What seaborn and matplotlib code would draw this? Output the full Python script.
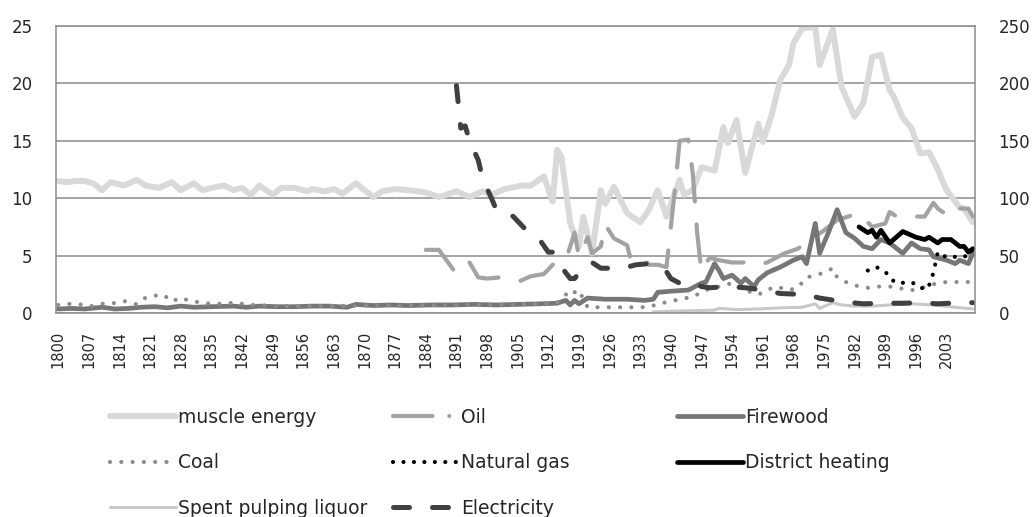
import matplotlib
matplotlib.use("Agg")
import matplotlib.pyplot as plt
from matplotlib.lines import Line2D
import seaborn as sns

sns.set_style("white")
plt.rcParams["font.family"] = ["DejaVu Sans"]

# ---------------------------------------------------------------------------
# Data (left-axis units)

muscle_years = [1800, 1802, 1804, 1806, 1808, 1810, 1812, 1815, 1818, 1820, 1823, 1826, 1828, 1831,
                1833, 1835, 1838, 1840, 1842, 1844, 1846, 1849, 1851, 1854, 1857, 1858, 1861, 1863,
                1865, 1868, 1870, 1872, 1874, 1877, 1880, 1884, 1887, 1891, 1894, 1897, 1899, 1902,
                1906, 1908, 1911, 1913, 1914, 1915, 1917, 1919, 1920, 1922, 1924, 1925, 1927, 1930,
                1933, 1935, 1937, 1939, 1942, 1943, 1945, 1947, 1950, 1952, 1953, 1955, 1957, 1960,
                1961, 1963, 1965, 1967, 1968, 1970, 1973, 1974, 1977, 1979, 1982, 1984, 1986, 1988,
                1990, 1991, 1993, 1995, 1997, 1999, 2001, 2003, 2006, 2007, 2009]
muscle_vals = [11.5, 11.4, 11.5, 11.5, 11.3, 10.7, 11.4, 11.1, 11.6, 11.1, 10.9, 11.4, 10.7, 11.3,
               10.7, 10.9, 11.1, 10.7, 10.9, 10.3, 11.1, 10.3, 10.9, 10.9, 10.6, 10.8, 10.6, 10.8,
               10.4, 11.3, 10.7, 10.1, 10.6, 10.8, 10.7, 10.5, 10.1, 10.6, 10.1, 10.6, 10.3, 10.8,
               11.1, 11.1, 11.9, 9.7, 14.2, 13.6, 7.8, 5.8, 8.4, 5.2, 10.7, 9.5, 11.0, 8.7,
               7.9, 9.0, 10.7, 8.4, 11.6, 10.3, 10.7, 12.7, 12.4, 16.2, 14.8, 16.8, 12.2, 16.5,
               14.9, 17.2, 20.3, 21.6, 23.5, 24.8, 24.9, 21.6, 24.7, 19.7, 17.1, 18.3, 22.3, 22.5,
               19.4, 18.8, 17.0, 16.1, 13.9, 14.0, 12.5, 10.7, 9.2, 9.1, 7.9]

oil_years = [1884, 1887, 1891, 1894, 1896, 1898, 1901, 1905, 1908, 1911, 1913, 1916, 1918, 1919,
             1921, 1922, 1924, 1925, 1927, 1930, 1931, 1934, 1935, 1937, 1939, 1940, 1941, 1942,
             1944, 1945, 1946, 1947, 1948, 1949, 1951, 1954, 1957, 1959, 1962, 1964, 1966, 1969,
             1972, 1975, 1978, 1983, 1986, 1989, 1990, 1992, 1996, 1998, 2000, 2001, 2004, 2006,
             2008, 2009]
oil_vals = [5.5, 5.5, 3.4, 4.4, 3.1, 3.0, 3.1, 2.7, 3.2, 3.4, 4.2, 4.6, 7.0, 4.9,
            6.6, 5.2, 5.8, 7.7, 6.5, 5.9, 4.4, 4.6, 4.2, 4.2, 4.0, 7.5, 11.0, 15.0,
            15.1, 12.2, 7.0, 3.6, 4.4, 4.8, 4.6, 4.4, 4.4, 4.1, 4.4, 4.8, 5.2, 5.6,
            6.4, 7.2, 8.1, 8.7, 7.5, 7.8, 8.8, 8.3, 8.4, 8.4, 9.6, 9.1, 8.3, 9.1,
            9.1, 8.4]

firewood_years = [1800, 1803, 1806, 1810, 1813, 1816, 1819, 1822, 1825, 1828, 1831, 1835, 1840, 1843,
                  1846, 1850, 1854, 1858, 1862, 1866, 1868, 1872, 1876, 1880, 1885, 1890, 1895, 1900,
                  1905, 1910, 1914, 1916, 1917, 1918, 1919, 1921, 1925, 1930, 1934, 1936, 1937, 1940,
                  1944, 1947, 1948, 1950, 1951, 1952, 1954, 1956, 1957, 1959, 1960, 1962, 1965, 1968,
                  1970, 1971, 1973, 1974, 1976, 1978, 1980, 1982, 1984, 1986, 1988, 1990, 1993, 1995,
                  1997, 1999, 2000, 2003, 2005, 2006, 2008, 2009]
firewood_vals = [0.35, 0.4, 0.35, 0.5, 0.35, 0.4, 0.5, 0.55, 0.45, 0.6, 0.5, 0.55, 0.6, 0.5,
                 0.6, 0.55, 0.55, 0.6, 0.6, 0.5, 0.75, 0.65, 0.7, 0.65, 0.7, 0.7, 0.75, 0.7,
                 0.75, 0.8, 0.85, 1.1, 0.7, 1.1, 0.8, 1.3, 1.2, 1.2, 1.1, 1.2, 1.8, 1.9,
                 2.0, 2.6, 2.7, 4.3, 3.7, 3.0, 3.3, 2.6, 3.0, 2.3, 2.9, 3.5, 4.0, 4.6,
                 4.9, 4.3, 7.8, 5.2, 7.0, 9.0, 7.0, 6.5, 5.8, 5.6, 6.4, 6.1, 5.2, 6.1,
                 5.6, 5.5, 4.9, 4.6, 4.3, 4.6, 4.3, 5.2]

coal_years = [1800, 1802, 1805, 1807, 1810, 1812, 1815, 1818, 1820, 1822, 1824, 1826, 1828, 1830,
              1833, 1835, 1838, 1840, 1843, 1845, 1850, 1860, 1870, 1880, 1890, 1900, 1910, 1914,
              1916, 1917, 1918, 1919, 1920, 1921, 1925, 1930, 1935, 1937, 1940, 1942, 1945, 1948,
              1951, 1954, 1957, 1960, 1962, 1964, 1967, 1969, 1971, 1973, 1975, 1977, 1978, 1980,
              1983, 1985, 1987, 1989, 1991, 1994, 1996, 1999, 2001, 2003, 2006, 2008]
coal_vals = [0.7, 0.8, 0.75, 0.55, 0.8, 0.8, 1.05, 0.75, 1.35, 1.5, 1.6, 1.0, 1.35, 1.05,
             0.9, 0.8, 0.8, 0.9, 0.75, 0.7, 0.6, 0.6, 0.65, 0.65, 0.7, 0.7, 0.8, 0.9,
             1.6, 2.0, 1.8, 2.0, 1.2, 0.5, 0.5, 0.5, 0.5, 0.8, 1.0, 1.2, 1.4, 2.0,
             2.3, 2.6, 2.0, 1.6, 2.0, 2.3, 2.0, 2.2, 3.1, 3.3, 3.5, 3.9, 3.1, 2.7,
             2.3, 2.2, 2.3, 2.3, 2.3, 2.0, 2.0, 2.4, 2.6, 2.7, 2.7, 2.7]

gas_years = [1985, 1987, 1990, 1991, 1994, 1996, 1998, 1999, 2000, 2001, 2002, 2004, 2006, 2008, 2009]
gas_vals = [3.7, 4.0, 3.3, 2.7, 2.6, 2.6, 2.0, 2.4, 3.5, 5.3, 5.0, 4.8, 5.0, 4.9, 5.6]

district_years = [1983, 1985, 1986, 1987, 1988, 1990, 1993, 1996, 1998, 1999, 2001, 2002, 2004,
                  2006, 2007, 2008, 2009]
district_vals = [7.5, 7.0, 7.2, 6.6, 7.2, 6.1, 7.1, 6.6, 6.4, 6.6, 6.1, 6.4, 6.4,
                 5.8, 5.8, 5.3, 5.6]

liquor_years = [1936, 1940, 1945, 1950, 1951, 1955, 1960, 1965, 1970, 1973, 1974, 1977, 1979,
                1982, 1986, 1990, 1995, 2000, 2005, 2009]
liquor_vals = [0.1, 0.15, 0.2, 0.25, 0.4, 0.3, 0.35, 0.45, 0.5, 0.8, 0.4, 0.9, 0.7,
               0.6, 0.6, 0.7, 0.8, 0.7, 0.5, 0.35]

elec_years = [1891, 1892, 1893, 1894, 1896, 1897, 1899, 1900, 1901, 1904, 1907, 1910, 1912, 1913,
              1915, 1917, 1918, 1920, 1921, 1922, 1924, 1926, 1928, 1930, 1932, 1935, 1937, 1939,
              1940, 1942, 1945, 1947, 1949, 1953, 1957, 1961, 1965, 1971, 1974, 1980, 1984, 1988,
              1993, 1997, 2001, 2006, 2009]
elec_vals = [19.8, 16.1, 16.3, 15.0, 13.3, 11.7, 10.0, 9.1, 9.2, 8.4, 7.2, 6.4, 5.3, 5.3,
             4.0, 3.0, 3.0, 4.0, 4.2, 4.4, 3.9, 3.9, 3.9, 4.0, 4.2, 4.3, 4.0, 3.6,
             3.0, 2.6, 2.7, 2.3, 2.2, 2.3, 2.2, 2.0, 1.7, 1.6, 1.3, 0.95, 0.8, 0.85,
             0.85, 0.9, 0.8, 0.9, 0.9]

left_ticks = [0, 5, 10, 15, 20, 25]
right_ticks = [0, 50, 100, 150, 200, 250]
year_ticks = list(range(1800, 2009, 7))

# ---------------------------------------------------------------------------
# Styles: label, years, values, color, linewidth, linestyle

series = [
    ("muscle energy", muscle_years, muscle_vals, "#d9d9d9", 4.3, "-"),
    ("Oil", oil_years, oil_vals, "#a3a3a3", 3.0, (0, (9.0, 5.5))),
    ("Firewood", firewood_years, firewood_vals, "#767676", 3.4, "-"),
    ("Coal", coal_years, coal_vals, "#8c8c8c", 3.0, (0, (0.01, 2.7))),
    ("Natural gas", gas_years, gas_vals, "#000000", 3.0, (0, (0.01, 2.5))),
    ("District heating", district_years, district_vals, "#000000", 3.4, "-"),
    ("Spent pulping liquor", liquor_years, liquor_vals, "#c8c8c8", 2.2, "-"),
    ("Electricity", elec_years, elec_vals, "#404040", 3.6, (0, (3.2, 4.6))),
]

fig = plt.figure(figsize=(10.35, 5.17), dpi=100)
ax = fig.add_axes([56 / 1035, 1 - 313 / 517, 919 / 1035, 287 / 517])

for label, xs, ys, color, lw, ls in series:
    sns.lineplot(x=xs, y=ys, ax=ax, color=color, linewidth=lw, linestyle=ls,
                 estimator=None, sort=False, solid_capstyle="round",
                 dash_capstyle="round", solid_joinstyle="round")

grid_color = "#8c8c8c"
ax.set_xlim(1799.5, 2009.5)
ax.set_ylim(0, 25)
ax.set_yticks(left_ticks)
ax.set_xticks(year_ticks)
ax.set_xticklabels([str(y) for y in year_ticks], rotation=90, fontsize=10.5)
ax.tick_params(axis="y", length=0, pad=17, labelsize=12)
ax.tick_params(axis="x", length=0, pad=13)
ax.yaxis.grid(True, color=grid_color, linewidth=1.1)
ax.xaxis.grid(False)
ax.set_axisbelow(True)
for side in ["left", "bottom", "top"]:
    ax.spines[side].set_color(grid_color)
    ax.spines[side].set_linewidth(1.1)
ax.spines["right"].set_visible(False)

ax2 = ax.twinx()
ax2.set_ylim(0, 250)
ax2.set_yticks(right_ticks)
ax2.tick_params(axis="y", length=0, pad=17, labelsize=12)
for side in ["left", "bottom", "top"]:
    ax2.spines[side].set_visible(False)
ax2.spines["right"].set_color(grid_color)
ax2.spines["right"].set_linewidth(1.1)

# Manual legend, three columns of equal width
handles = {}
for label, xs, ys, color, lw, ls in series:
    if label == "Oil":
        ls = (0, (9.5, 4.0, 0.01, 4.0))
    handles[label] = Line2D([0], [0], color=color, linewidth=lw, linestyle=ls,
                            solid_capstyle="round", dash_capstyle="round")

columns = [
    (110, ["muscle energy", "Coal", "Spent pulping liquor"]),
    (393, ["Oil", "Natural gas", "Electricity"]),
    (677, ["Firewood", "District heating"]),
]
for x0, labels in columns:
    leg = fig.legend([handles[l] for l in labels], labels, loc="upper left",
                     bbox_to_anchor=(x0 / 1035, 1 - 408 / 517), frameon=False,
                     fontsize=13.5, handlelength=3.5, handletextpad=0.15,
                     labelspacing=1.4, borderpad=0, borderaxespad=0)

fig.savefig("out.png", dpi=100)
